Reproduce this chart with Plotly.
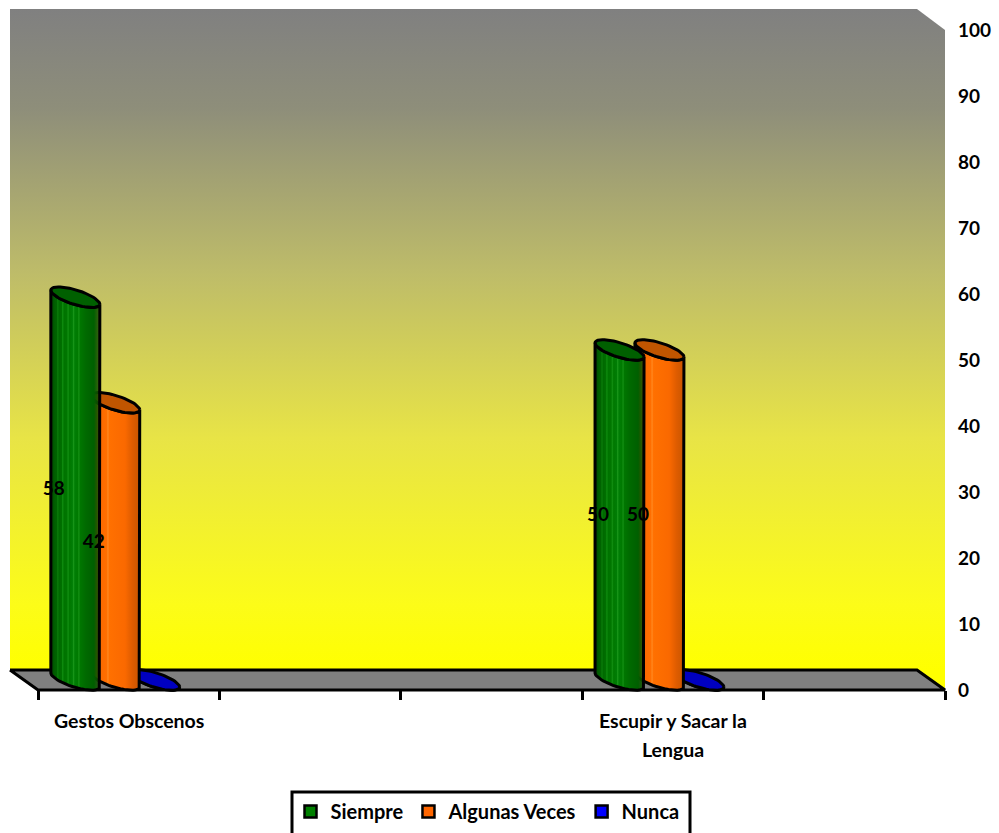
import numpy as np
import plotly.graph_objects as go

# ---- data
category_positions = [0, 3]
category_lines = [["Gestos Obscenos"], ["Escupir y Sacar la", "Lengua"]]
siempre = [58, 50]
algunas_veces = [42, 50]
nunca = [0, 0]
y_ticks = list(range(0, 101, 10))
x_boundaries = [-0.5, 0.5, 1.5, 2.5, 3.5, 4.5]

W, H = 999, 833
FONT = "Lato"
INK = "#000000"
PX_X = 907 / 5      # pixels per category
PX_Y = 6.6          # pixels per value unit


def py(p):
    return (H - p) / H


GREEN_STOPS = [[0, "rgb(0,70,0)"], [0.08, "rgb(0,95,0)"], [0.12, "rgb(0,100,0)"], [0.14, "rgb(10,125,10)"],
               [0.17, "rgb(0,105,0)"], [0.22, "rgb(0,112,0)"], [0.24, "rgb(15,140,15)"], [0.27, "rgb(0,115,0)"],
               [0.33, "rgb(0,118,0)"], [0.35, "rgb(20,145,20)"], [0.38, "rgb(0,120,0)"], [0.44, "rgb(0,125,5)"],
               [0.46, "rgb(25,150,25)"], [0.49, "rgb(0,125,5)"], [0.55, "rgb(0,122,0)"], [0.57, "rgb(20,145,20)"],
               [0.6, "rgb(0,118,0)"], [0.72, "rgb(0,105,0)"], [0.88, "rgb(0,95,0)"], [1, "rgba(30,75,0,0.8)"]]
ORANGE_STOPS = [[0, "rgb(225,90,0)"], [0.12, "rgb(245,102,0)"], [0.15, "rgb(255,135,30)"], [0.18, "rgb(250,105,0)"],
                [0.32, "rgb(255,110,0)"], [0.35, "rgb(255,135,30)"], [0.38, "rgb(255,112,0)"],
                [0.7, "rgb(250,105,0)"], [0.85, "rgb(222,92,0)"], [1, "rgb(200,85,0)"]]
BLUE_STOPS = [[0, "rgb(0,0,190)"], [1, "rgb(0,0,190)"]]

series = [
    dict(name="Siempre", values=siempre, offset=-0.217, legend="#008000", top="#006000", stops=GREEN_STOPS),
    dict(name="Algunas Veces", values=algunas_veces, offset=0.003, legend="#FF6600", top="#C05500", stops=ORANGE_STOPS),
    dict(name="Nunca", values=nunca, offset=0.223, legend="#0000FF", top="#0000C0", stops=BLUE_STOPS),
]

fig = go.Figure()

# ---- chart walls and floor (frame, on a page-sized axis pair)
GRADIENT = [[0, "rgb(255,255,0)"], [0.1, "rgb(252,252,25)"], [0.35, "rgb(232,228,70)"],
            [0.6, "rgb(190,188,105)"], [0.85, "rgb(142,142,122)"], [1, "rgb(128,128,128)"]]
fig.add_trace(go.Scatter(x=[10, 917, 945, 945, 38, 10, 10], y=[9, 9, 30, 690, 690, 670, 9], mode="none",
                         fill="toself", fillgradient=dict(type="vertical", colorscale=GRADIENT, start=670, stop=9),
                         hoverinfo="skip", showlegend=False, xaxis="x", yaxis="y"))
fig.add_trace(go.Scatter(x=[10, 917, 945, 38, 10], y=[670, 670, 690, 690, 670], mode="lines", fill="toself",
                         fillcolor="#808080", line=dict(color=INK, width=3),
                         hoverinfo="skip", showlegend=False, xaxis="x", yaxis="y"))

# ---- visible axes need a trace
fig.add_trace(go.Scatter(x=[0], y=[None], mode="markers", showlegend=False, hoverinfo="skip", xaxis="x2", yaxis="y2"))

# ---- bars (solid core, give the legend keys)
for s in series:
    fig.add_trace(go.Bar(x=category_positions, y=s["values"], name=s["name"], width=0.14,
                         offset=s["offset"] - 0.07, marker=dict(color=s["legend"], line=dict(color=INK, width=2.5)),
                         xaxis="x3", yaxis="y3"))

# ---- cylinder outlines, from the same values
A, TILT, B = 24.5 / PX_X, 7 / PX_Y, 7.5 / PX_Y
t_front = np.linspace(np.pi, 0, 30)
t_all = np.linspace(0, 2 * np.pi, 60)
for s in reversed(series):
    for pos, val in zip(category_positions, s["values"]):
        cx = pos + s["offset"]
        # y is in value units, up; the ellipse front is the lower side, right end is lower than the left
        ax = cx + A * np.cos(t_front)
        ay = -TILT * np.cos(t_front) - B * np.sin(t_front)
        body_x = np.concatenate([ax, ax[::-1], ax[:1]])
        body_y = np.concatenate([val + ay, ay[::-1], val + ay[:1]])
        fig.add_trace(go.Scatter(x=body_x, y=body_y, mode="lines", fill="toself",
                                 fillgradient=dict(type="horizontal", colorscale=s["stops"]),
                                 line=dict(color=INK, width=3), hoverinfo="skip", showlegend=False,
                                 xaxis="x3", yaxis="y3"))
        fig.add_trace(go.Scatter(x=cx + A * np.cos(t_all),
                                 y=val - TILT * np.cos(t_all) - B * np.sin(t_all),
                                 mode="lines", fill="toself", fillcolor=s["top"],
                                 line=dict(color=INK, width=3), hoverinfo="skip", showlegend=False,
                                 xaxis="x3", yaxis="y3"))

# ---- data labels
for s in series:
    shown = [(p, v) for p, v in zip(category_positions, s["values"]) if v > 0]
    if shown:
        fig.add_trace(go.Scatter(x=[p + s["offset"] - 21.5 / PX_X for p, v in shown],
                                 y=[v / 2 - 1.5 / PX_Y for p, v in shown],
                                 text=[str(v) for p, v in shown], mode="text", textposition="middle center",
                                 textfont=dict(family=FONT, size=19, color=INK, weight="bold"),
                                 hoverinfo="skip", showlegend=False, xaxis="x3", yaxis="y3"))

# ---- category labels
line_y = [720, 749]
annotations = []
for pos, lines in zip(category_positions, category_lines):
    for i, txt in enumerate(lines):
        annotations.append(dict(text=txt, x=pos, xref="x2", y=py(line_y[i]), yref="paper", yanchor="middle",
                                xanchor="center", showarrow=False,
                                font=dict(family=FONT, size=19.5, color=INK, weight="bold")))

fig.update_layout(
    width=W, height=H, margin=dict(l=0, r=0, t=0, b=0, autoexpand=False), autosize=False,
    paper_bgcolor="white", plot_bgcolor="rgba(0,0,0,0)",
    barmode="overlay", bargap=0, hovermode=False,
    font=dict(family=FONT, color=INK),
    annotations=annotations,
    xaxis=dict(domain=[0, 1], range=[0, W], visible=False, fixedrange=True),
    yaxis=dict(domain=[0, 1], range=[H, 0], visible=False, fixedrange=True),
    xaxis2=dict(domain=[38 / W, 945 / W], range=[-0.5, 4.5], anchor="y2", tickmode="array", tickvals=x_boundaries,
                ticks="outside", ticklen=9, tickwidth=3, tickcolor=INK, showticklabels=False,
                showgrid=False, zeroline=False, showline=False, fixedrange=True),
    yaxis2=dict(domain=[py(690), py(30)], range=[0, 100], anchor="x2", side="right", tickmode="array",
                tickvals=y_ticks, ticks="", showgrid=False, zeroline=False, showline=False, fixedrange=True,
                ticklabelstandoff=12, tickfont=dict(family=FONT, size=19, color=INK, weight="bold")),
    xaxis3=dict(domain=[24 / W, 931 / W], range=[-0.5, 4.5], anchor="y3", visible=False, fixedrange=True),
    yaxis3=dict(domain=[py(680 + 3 * PX_Y), py(20)], range=[-3, 100], anchor="x3", visible=False, fixedrange=True),
    shapes=[dict(type="rect", xref="paper", yref="paper", x0=292 / W, x1=690 / W, y0=py(845), y1=py(792),
                 line=dict(color=INK, width=3), fillcolor="white", layer="below")],
    legend=dict(orientation="h", x=290.5 / W, xanchor="left", y=py(792), yanchor="top", bgcolor="rgba(0,0,0,0)",
                font=dict(family=FONT, size=20, color=INK, weight="bold"), traceorder="normal", itemclick=False,
                itemdoubleclick=False),
    showlegend=True,
)

fig.write_html("out.html", config=dict(displayModeBar=False),
               post_script="document.body.style.margin='0';document.body.style.overflow='hidden';")
